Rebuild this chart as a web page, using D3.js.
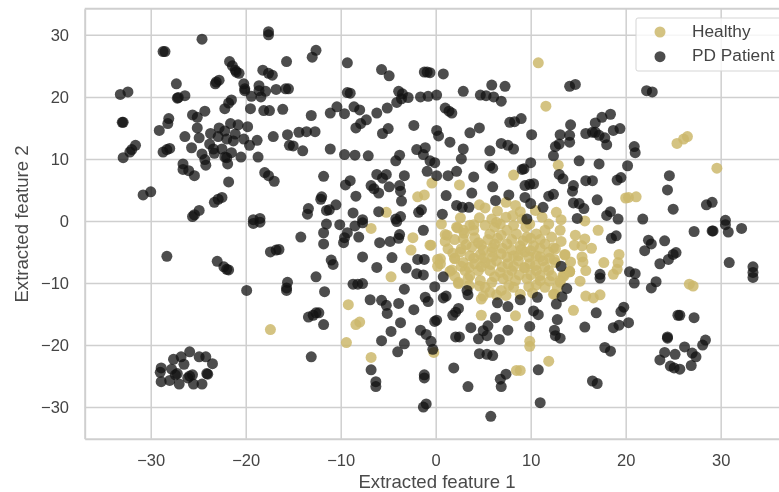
<!DOCTYPE html>
<html lang="en">
<head>
<meta charset="utf-8">
<title>Extracted features</title>
<script src="https://cdn.jsdelivr.net/npm/d3@7"></script>
<style>
  html, body { margin: 0; background: #fff; }
  svg { display: block; filter: blur(0.4px); }
  text { font-family: "Liberation Sans", Arial, sans-serif; }
  .axis path { stroke: #cfcfcf; stroke-width: 2; }
  .axis line { stroke: #cfcfcf; stroke-width: 1.5; }
  .axis text { font-size: 16.5px; fill: #444; }
  .title { font-size: 18.6px; fill: #4a4a4a; }
</style>
</head>
<body>
<script>
const xTicks = [-30, -20, -10, 0, 10, 20, 30];
const yTicks = [-30, -20, -10, 0, 10, 20, 30];
const labels = ["Healthy", "PD Patient"];

// values, by region
const healthyOuter = [
  [10.8,25.5],[11.6,18.5],[25.4,12.5],[26.1,13.2],[26.5,13.6],[29.6,8.5],[12.9,9],[8.2,7.4],
  [2.5,5.8],[-0.4,6.1],[-1.2,4.2],[-1.9,3.9],[-5.2,1.4],[20,3.7],[20.3,3.8],[21.1,3.9],
  [-6.8,-1.2],[-2.4,-2.7],[-2.6,-4.7],[-0.6,-3.9],[0.2,-6.2],[0.2,-7.3],[-4.7,-9],[-9.2,-13.5],
  [-8,-16.3],[-8.4,-16.7],[-9.4,-19.6],[-6.8,-22],[-0.2,-21.2],[8.5,-24.1],[8.9,-24.1],[11.9,-22.6],
  [9.9,-19.4],[9.9,-20.2],[8.4,-15.3],[4.8,-15.2],[4.8,-12.6],[12.5,-11.8],[26.7,-10.2],[27.1,-10.5],
  [-17.4,-17.5],[14.5,-14.4],[15.8,-12.1],[16.6,-12.4],[17.3,-11.9],[17.1,-1.5],[17.7,-6.7],
  [19.3,-5.4],[19.2,-6.7],[19.1,-7.8],[18.7,-8.6],[15.7,-2.9],[16.4,-4.4],[14.7,-2.3],[15.2,-9.7],
  [15.8,-8],[15.5,-6.6],[15.4,-5.8],[14.6,-3.9],[15.4,-4],[14.1,-8.2],[13.5,-8.9],[13.1,-9.9]
];
const healthyCore = [
  [4.6,2.6],[5.2,2.1],[6.5,1.6],[7.4,3],[8.4,2.5],[8.9,1.5],[10.5,1.7],[12.7,1.4],[13.2,0.2],[15.7,0],
  [2.6,0.5],[4.6,0.5],[5.9,0.3],[7.4,0.6],[9.1,0.3],[11.2,0.6],[0.6,-0.5],[1.2,-2.3],[2.2,-1],
  [3.6,-0.7],[2.9,-1.5],[4,-1.5],[5.2,-0.7],[6.8,-0.5],[8.2,-0.7],[9.9,-0.5],[11.9,-0.5],[13.1,-1.5],
  [1,-3.3],[2,-3],[2.9,-2.9],[4.1,-2.7],[5.7,-2.1],[6.9,-2.3],[8.5,-2.1],[9.6,-2.6],[10.6,-2.1],
  [12.2,-2.6],[13.2,-3.3],[-0.5,-3.9],[1.3,-4.5],[2.7,-4.5],[3.8,-4.2],[4.8,-3.9],[6.2,-3.7],[7.5,-3.7],
  [8.9,-4],[10.3,-4],[11.5,-3.7],[12.6,-4.5],[0.5,-6.1],[0.5,-6.9],[2,-6],[2.6,-5],[3.6,-5.6],
  [4.7,-5.4],[5.9,-5],[6.9,-5.3],[8.2,-5.6],[9.4,-5],[10.6,-5.6],[11.9,-5],[13.6,-5.4],[1.7,-7.9],
  [2.9,-6.7],[3.1,-8],[4.1,-6.9],[5.2,-6.7],[6.4,-6.4],[7.6,-6.9],[8.7,-6.4],[9.9,-6.9],[11.3,-6.4],
  [12.6,-6.7],[2.4,-9.9],[3.6,-8.8],[4.5,-8],[5.7,-8],[6.8,-8.3],[8,-8],[9.4,-7.6],[10.6,-8],[11.9,-8],
  [14.1,-8.1],[13.4,-8.8],[4.7,-9.6],[5.9,-9.9],[7.1,-9.3],[8.4,-9.6],[9.6,-9.3],[11,-9.6],[13.1,-9.6],
  [3.5,-10.4],[5.7,-11.5],[6.9,-11.2],[8.2,-10.7],[9.8,-10.6],[11.5,-10.7],[8.9,-11.8],[4.6,-10.5],
  [3,-2],[4.5,-3.5],[5.5,-3],[6.5,-2.8],[7.5,-1.5],[8,-3],[9.2,-3.2],[10,-2.8],[11,-3],[5,-4.7],[6,-4.3],
  [7,-4.4],[8,-4.7],[9,-4.6],[10,-4.8],[11,-4.4],[4,-6],[5,-6],[6,-5.8],[7.5,-5.8],[8.7,-5.6],[9.8,-5.8],
  [11,-5.8],[12,-6],[3.5,-7.5],[4.8,-7.4],[5.8,-7],[7,-7.4],[8.2,-7.3],[9.3,-7.5],[10.5,-7.2],[11.5,-7.4],
  [6.2,-9],[7.6,-8.8],[8.8,-8.7],[10,-8.7],[11,-8.8],[12.2,-8.8],[5.2,-10.7],[7.7,-10.4],[10.6,-10.3],
  [4,-0.6],[6.2,-1],[9.5,-1],[11.5,-1.5],[3.2,-3.8],[1.8,-5.2],[2.7,-7.3],[12,-9.7],[1.5,-8.1],[2.4,-10.1],
  [12.4,-4.3],[12.5,-6.2],[13.6,-5.5],[14.1,-8.2],[12.4,-11.8],[2,-6.1],[1,-2.2],[2.3,-1.1],
  [6.4,-11.9],[7.4,-12],[5,-12.1],[10.2,-11.6],[12.8,-10.8],[6.4,-0.2],[8.1,0.9],[3.4,-9.3],[2,-8.9],[14.2,-6.6]
];
const patientsFarLeft = [
  [-24.6,29.3],[-17.6,30.5],[-17.6,30],[-28.7,27.3],[-28.5,27.3],[-12.6,27.5],[-13,26.4],[-15.7,25.7],
  [-21.7,25.7],[-21.4,25],[-21.1,24.3],[-21,24],[-20.7,23.8],[-18.2,24.3],[-17.6,23.8],[-17.2,23.5],
  [-22.8,22.7],[-23.2,22.1],[-23.1,22.4],[-27.3,22.1],[-33.2,20.4],[-32.4,20.8],[-26.4,20.2],[-27.1,19.9],
  [-27.2,19.8],[-20.2,22.1],[-20.1,21.3],[-20.1,21],[-19.4,20.1],[-18.6,21.8],[-18.6,21],[-17.9,20.9],
  [-18.4,20],[-16.8,21.2],[-15.5,21.3],[-15.8,21.3],[-21.5,19.5],[-21.8,19],[-22.2,18.1],[-19.5,18.1],
  [-18.1,17.8],[-17.5,17.8],[-16.1,18],[-13.1,17],[-24.3,17.7],[-25.6,17.1],[-25.1,16.7],[-33,15.9],
  [-32.9,15.9],[-28.1,16.5],[-28.2,15.7],[-29.1,14.6],[-25.1,15],[-24.9,13.4],[-26.4,13.6],[-25.7,11.8],
  [-22.8,15],[-21.6,15.7],[-20.8,15.5],[-19.8,15.2],[-23.7,14.1],[-22.2,14.5],[-21.1,14],[-22.9,13.6],
  [-22,13.2],[-21.3,12.9],[-23.8,12.4],[-23.4,11.6],[-22.5,11.6],[-21.5,11],[-20.2,13.2],[-19.6,12.2],
  [-18.8,13],[-20.5,10.3],[-22,10.2],[-23.3,10.9],[-22.2,10.3],[-24.6,10.8],[-24.3,9.9],[-24.2,9],
  [-21.9,9.2],[-18.7,10.3],[-17.1,13.6],[-15.6,13.9],[-14.4,14.3],[-13.6,14.4],[-12.7,14.4],[-15.4,12.2],
  [-15,12.1],[-14,11.3],[-31.6,12.2],[-32,11.5],[-32.2,11.1],[-32.9,10.2],[-28,11.7],[-28.7,11.1],
  [-28.3,11.5],[-26.6,9.2],[-26.6,8.3],[-26,8.1],[-25.4,7.3],[-18,7.8],[-17.6,7.3],[-17,6.4],[-21.8,6.3],
  [-30.8,4.2],[-30,4.7],[-22.5,3.8],[-22.9,3.5],[-23.3,3],[-24.9,1.7],[-25.4,1],[-25.6,0.7],[-18.5,0.4],
  [-19.2,0.2],[-13.4,2],[-13.5,1.1],[-28.3,-5.7],[-23,-6.5],[-22.3,-7.4],[-21.8,-7.9],[-22,-7.8],
  [-19.9,-11.2],[-15.6,-9.9],[-15.7,-10.8],[-15.7,-11.2],[-17.4,-5],[-16.8,-4.7],[-16.5,-4.6],[-14.2,-2.6],
  [-19.2,-0.4],[-18.5,-0.2],[-12.6,-14.8],[-12.9,-15.2],[-13.4,-15.5],[-13.1,-21.9],[-12.6,-9]
];
const patientsBlob = [
  [-25.9,-21.1],[-26.8,-21.9],[-27.6,-22.3],[-26.5,-23.1],[-24.9,-21.9],[-24.2,-21.9],[-23.5,-23],
  [-28.9,-23.7],[-29,-24.4],[-28.9,-25.9],[-27.8,-23.9],[-27.2,-24.6],[-28,-25.7],[-27,-26.3],[-25.9,-25],
  [-25.6,-24.8],[-26.1,-25.3],[-24.1,-24.6],[-24,-24.7],[-25.5,-26.3],[-24.6,-26.3],[-27.4,-24.8]
];
const patientsMiddle = [
  [-9.3,25.5],[-5.7,24.4],[-4.9,23.4],[-1.2,24],[-0.6,23.9],[-0.9,24],[0.8,23.7],[-9.3,20.7],[-9,20.6],
  [-3.9,20.9],[-3.5,20.5],[-4.1,19.1],[-3.6,19.7],[-2.9,19.9],[-1.6,20],[-0.8,20.1],[0.1,20.3],[2.9,20.9],
  [4.7,20.3],[5.3,20.2],[6.1,20],[6.9,19.3],[5.9,21.9],[7.3,21.7],[-10.4,18.4],[-11.1,17.4],[-9.6,17.3],
  [-8.6,18.4],[-8,17.9],[-7.3,16.3],[-7.9,15.7],[-8.4,15],[-6.2,17.4],[-5.1,18.2],[-2.3,15.4],[1,18.2],
  [1.4,17.7],[1.7,17.4],[0.1,14.6],[0.3,13.7],[1.5,12.7],[-5,14.9],[-5.6,14.1],[-11.1,11.6],[-9.6,10.7],
  [-8.5,10.6],[-7.1,10.5],[-2,11.5],[-1.1,11.8],[-1.3,10.7],[-3.8,10.6],[-4.2,9.7],[-0.6,9.7],[-0.1,9.4],
  [2.9,11.6],[2.7,10],[5.7,11.3],[4.6,15],[3.6,14.2],[6.9,12.5],[7.6,12.2],[8.2,11.6],[10.1,13.9],[7.8,15.9],
  [8.3,16],[9,16.5],[5.7,8.9],[6,8.5],[10,9.4],[9.3,8.4],[9.1,8.3],[2.2,8],[1.3,7.3],[0.1,7.3],[-0.9,8],
  [-3.3,7.3],[-5.2,7.5],[-6.2,7.5],[-5.6,6.9],[4,7.1],[-11.8,7.2],[-9,6.5],[-9.5,5.8],[-6.8,5.7],[-6.5,5.2],
  [-6,4.5],[-4.9,5.5],[-3.8,5.7],[-3.7,4.8],[-3.6,3.2],[-8.4,4],[6,5.5],[9.4,5.7],[9.9,5.9],[10.3,6],
  [7.7,4.2],[9.4,3.8],[3.8,4.5],[1.1,4.1],[6.3,3.3],[10,2.8],[11.3,2.2],[2.2,2.5],[2.8,2.2],[3.5,2.2],
  [-10.5,2.6],[-11.2,1.8],[-11.5,1.7],[-12,3.9],[-12.1,3.5],[-8.7,1.3],[-7.7,0.2],[-6,1.5],[-3.7,0.7],
  [-4.2,0.3],[-1.5,1.8],[-1.8,1.4],[0.7,1.1],[9.6,0.3],[-11.5,-0.5],[-11.8,-1.9],[-10.1,-0.6],[-8.5,-0.8],
  [-7.7,-0.3],[-9.3,-1.9],[-9.6,-2.7],[-9.7,-3.5],[-8.1,-2.6],[-11.8,-3.7],[-4.1,-0.1],[-5.9,-3.5],
  [-4.8,-3.3],[-3.8,-2.2],[-3.9,-2.8],[-1.3,-1.5],[-7.7,-5.8],[-11,-6.3],[-10.8,-7],[-6.2,-7.5],[-4.6,-5.9],
  [-3.1,-7.6],[-1.9,-6.2],[-1.2,-6.2],[-2,-8.5],[-1.3,-8.7],[0.8,-9],[-0.1,-10.6],[-3.3,-11],[-8.7,-10.2],
  [-8.2,-10.2],[-7.7,-10.1],[-11.7,-11.4],[-6.9,-12.7],[-5.7,-12.8],[-5.2,-13.6],[-5.1,-14.9],[-3.9,-13.3],
  [-2.3,-14.3],[-1.1,-12.3],[-0.8,-13],[1.1,-12.1],[0.8,-12.4],[3.3,-11.2],[3.4,-11.9],[2.4,-14.1],[1.8,-15.2],
  [2.1,-14.7],[0.1,-16],[-0.1,-16.2],[-3.7,-16.4],[-4.7,-17.8],[-5.7,-19.3],[-1.6,-17.6],[-1,-18.3],[-0.5,-19.4],
  [-0.3,-20.7],[-3.3,-19.8],[-4,-21.1],[3.7,-17.2],[4.5,-19],[5,-17.7],[5.4,-18.5],[5.5,-16.9],[6.3,-15.6],
  [6.5,-13.2],[7.6,-13.8],[8.9,-12.7],[10.7,-12.3],[7.6,-17.6],[6.7,-19.1],[9.9,-17],[2.1,-18.7],[2.5,-18.7],
  [4.6,-21.4],[5.4,-21.5],[6,-21.7],[1.9,-23.7],[-6.8,-24],[-6.3,-25.9],[-6.3,-26.7],[-1.2,-24.8],[-1.2,-25.3],
  [3.4,-26.7],[7.4,-24.7],[6.8,-25.5],[6.9,-26.7],[10.8,-24],[11,-29.3],[5.8,-31.5],[-1,-29.5],[-1.3,-30],
  [-11.8,-16.7],[-12.3,-14.8],[10.3,-14.5],[10.8,-15.1]
];
const patientsRight = [
  [14.1,21.7],[14.7,22],[22.2,21],[22.8,20.8],[18.4,17.2],[17.5,16.7],[16.8,15.8],[19.4,14.9],[18.7,14.6],
  [15.8,14.1],[16.5,14.3],[16.8,14.3],[17.2,13.8],[17.8,13.4],[18,12.3],[14.2,15.5],[13.1,13.9],[14.1,13.8],
  [14.1,12.7],[13,12.4],[12.6,12],[12.4,10.5],[15.1,9.7],[17.2,9.2],[20.9,12],[21,11],[20.2,8.9],[19.5,7],
  [19.1,6.6],[24.6,7.3],[24.4,5],[13,7.5],[13.4,6.8],[14.5,5.7],[14.4,4.8],[15.8,6.5],[16.5,6.5],[17,3.4],
  [14.5,2.9],[15.1,2.8],[15.6,2],[18.4,1.5],[18,0.9],[19.2,0.3],[21.8,0.3],[25,1.9],[28.5,2.6],[29.1,3],
  [30.5,0.1],[11.9,4],[12.4,4.3],[14.9,0.4],[19,-2.4],[18.5,-2.8],[22.4,-3.1],[22.7,-3.7],[22,-4.8],[24.1,-3.2],
  [25.3,-5.1],[25,-5.4],[24.5,-6.2],[23.6,-6.9],[27.2,-1.7],[29.1,-1.6],[29.2,-1.6],[30.5,-0.6],[30.8,-1.8],
  [32.2,-1.2],[30.9,-6.7],[33.4,-7.4],[33.4,-8.3],[33.4,-9.1],[20.4,-8.2],[21,-8.5],[20.9,-10],[23.2,-9.8],
  [22.7,-10.8],[17.3,-8.6],[17.3,-9.2],[13.2,-7.3],[13.8,-10.9],[13.3,-12.2],[12.7,-13.4],[12.8,-15.9],
  [12.5,-17.6],[12.6,-18.5],[13.1,-18.9],[19.8,-13.9],[19.5,-14.6],[16.9,-14.8],[20.3,-16.4],[19.3,-16.8],
  [18.7,-17.2],[15.7,-17.1],[17.8,-20.4],[18.4,-21],[16.5,-25.8],[17,-26.2],[25.5,-15.2],[25.7,-15.2],[27.2,-15.6],
  [24.4,-18.7],[24.4,-18.9],[28.4,-19.2],[28.1,-20],[26.2,-20.3],[27,-21.3],[27.4,-21.9],[24.1,-21.2],[25.2,-21.5],
  [23.6,-22.4],[26.9,-23.3],[24.7,-23.4],[25.1,-23.7],[25.7,-23.9]
];

const healthy = healthyOuter.concat(healthyCore);
const patients = patientsFarLeft.concat(patientsBlob, patientsMiddle, patientsRight);

const w = 779, h = 492;
const left = 84.7, top_ = 8.8, bottom = 438.7;

const svg = d3.select("body").append("svg").attr("width", w).attr("height", h);

const x = d3.scaleLinear().domain([-36.95, 36.14]).range([left, w]);
const y = d3.scaleLinear().domain([-35.1, 34.2]).range([bottom, top_]);

svg.append("g").attr("class", "axis")
  .attr("transform", `translate(0,${bottom})`)
  .call(d3.axisBottom(x).tickValues(xTicks).tickSize(-(bottom - top_)).tickPadding(16).tickSizeOuter(0));

svg.append("g").attr("class", "axis")
  .attr("transform", `translate(${left},0)`)
  .call(d3.axisLeft(y).tickValues(yTicks).tickSize(-(w - left)).tickPadding(15.7).tickSizeOuter(0));

// top spine
svg.append("line").attr("x1", left).attr("x2", w).attr("y1", top_).attr("y2", top_)
  .attr("stroke", "#cfcfcf").attr("stroke-width", 2);

svg.append("g").selectAll("circle").data(healthy).enter().append("circle")
  .attr("cx", d => x(d[0])).attr("cy", d => y(d[1])).attr("r", 5.5)
  .attr("fill", "#cdb96c").attr("fill-opacity", 0.85);

svg.append("g").selectAll("circle").data(patients).enter().append("circle")
  .attr("cx", d => x(d[0])).attr("cy", d => y(d[1])).attr("r", 5.5)
  .attr("fill", "#111").attr("fill-opacity", 0.75);

// legend
const legend = svg.append("g").attr("transform", "translate(636,18)");
legend.append("rect").attr("width", 160).attr("height", 53).attr("rx", 2)
  .attr("fill", "#fff").attr("fill-opacity", 0.8).attr("stroke", "#d5d5d5").attr("stroke-width", 1);
legend.selectAll("circle").data(labels).enter().append("circle")
  .attr("cx", 24).attr("cy", (d, i) => 14 + i * 24.7).attr("r", 5.5)
  .attr("fill", (d, i) => i ? "#111" : "#cdb96c").attr("fill-opacity", (d, i) => i ? 0.75 : 0.85);
legend.selectAll("text").data(labels).enter().append("text")
  .attr("x", 56).attr("y", (d, i) => 18.7 + i * 24.4)
  .attr("font-size", 17.3).attr("fill", "#444").text(d => d);

svg.append("text").attr("class", "title").attr("text-anchor", "middle")
  .attr("x", 437).attr("y", 488).text("Extracted feature 1");
svg.append("text").attr("class", "title").attr("text-anchor", "middle")
  .attr("transform", "translate(28.3,224) rotate(-90)").text("Extracted feature 2");
</script>
</body>
</html>
